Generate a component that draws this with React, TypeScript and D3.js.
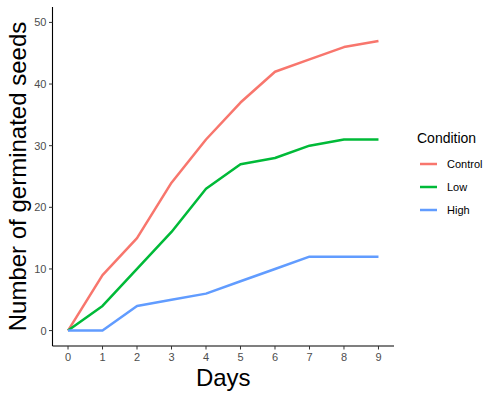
import React from 'react';
import * as d3 from 'd3';

const days = [0, 1, 2, 3, 4, 5, 6, 7, 8, 9];
const conditions = ['Control', 'Low', 'High'];
const control = [0, 9, 15, 24, 31, 37, 42, 44, 46, 47];
const low = [0, 4, 10, 16, 23, 27, 28, 30, 31, 31];
const high = [0, 0, 4, 5, 6, 8, 10, 12, 12, 12];
const yTicks = [0, 10, 20, 30, 40, 50];
const colors = ['#F8766D', '#00BA38', '#619CFF'];

const seriesValues = [control, low, high];

const App = () => {
  const width = 500;
  const height = 397;
  const font = '"Liberation Sans", Arial, sans-serif';

  // plot panel
  const left = 52.5;
  const right = 394;
  const top = 7;
  const bottom = 346;

  const x = d3.scaleLinear().domain([-0.45, 9.45]).range([left, right]);
  const y = d3.scaleLinear().domain([-2.5, 52.5]).range([bottom, top]);

  const line = d3
    .line<number>()
    .x((_, i) => x(days[i]))
    .y((d) => y(d));

  return (
    <svg
      width={width}
      height={height}
      style={{ position: 'absolute', left: 0, top: 0, background: '#fff' }}
      fontFamily={font}
    >
      {/* series */}
      {seriesValues.map((vals, i) => (
        <path
          key={conditions[i]}
          d={line(vals) || ''}
          fill="none"
          stroke={colors[i]}
          strokeWidth={2.5}
          strokeLinejoin="round"
        />
      ))}

      {/* axes */}
      <line x1={left} x2={left} y1={top} y2={bottom} stroke="#000" strokeWidth={1.1} />
      <line x1={left} x2={right} y1={bottom} y2={bottom} stroke="#000" strokeWidth={1.1} />

      {yTicks.map((t) => (
        <g key={t}>
          <line x1={left - 3.5} x2={left} y1={y(t)} y2={y(t)} stroke="#333" strokeWidth={1} />
          <text
            x={left - 6}
            y={y(t)}
            dy="0.36em"
            textAnchor="end"
            fontSize={11}
            fill="#4D4D4D"
          >
            {t}
          </text>
        </g>
      ))}

      {days.map((t) => (
        <g key={t}>
          <line x1={x(t)} x2={x(t)} y1={bottom} y2={bottom + 3.5} stroke="#333" strokeWidth={1} />
          <text x={x(t)} y={bottom + 15} textAnchor="middle" fontSize={11} fill="#4D4D4D">
            {t}
          </text>
        </g>
      ))}

      {/* axis titles */}
      <text x={(left + right) / 2} y={386} textAnchor="middle" fontSize={24} fill="#000">
        Days
      </text>
      <text
        transform={`translate(26,${(top + bottom) / 2}) rotate(-90)`}
        textAnchor="middle"
        fontSize={24}
        fill="#000"
      >
        Number of germinated seeds
      </text>

      {/* legend */}
      <text x={417} y={143} fontSize={14} fill="#000">
        Condition
      </text>
      {conditions.map((c, i) => (
        <g key={c} transform={`translate(0,${164 + i * 23})`}>
          <line x1={420} x2={437} y1={0} y2={0} stroke={colors[i]} strokeWidth={2.5} />
          <text x={447} y={0} dy="0.35em" fontSize={11} fill="#000">
            {c}
          </text>
        </g>
      ))}
    </svg>
  );
};

export default App;
